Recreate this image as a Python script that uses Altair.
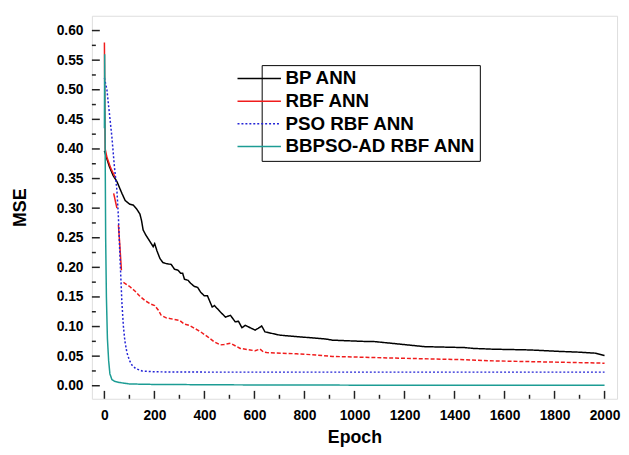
import altair as alt
import pandas as pd

# ---- data ----
series_names = ["BP ANN", "RBF ANN", "PSO RBF ANN", "BBPSO-AD RBF ANN"]
series_colors = ["#000000", "#f01c1c", "#2424d6", "#1c9c94"]

bp_epoch = [0, 5, 20, 35, 50, 60, 70, 83, 100, 116, 130, 142, 148, 155, 165, 180, 195, 201, 210,
            222, 234, 250, 267, 280, 295, 305, 313, 320, 335, 345, 359, 373, 385, 399, 412, 431,
            440, 464, 484, 504, 523, 536, 550, 563, 583, 603, 615, 629, 642, 701, 767, 807, 885,
            912, 1030, 1083, 1281, 1438, 1478, 1557, 1701, 1820, 1899, 1964, 2000]
bp_mse = [0.397, 0.39, 0.37, 0.355, 0.345, 0.335, 0.325, 0.313, 0.307, 0.305, 0.298, 0.29, 0.28,
          0.263, 0.255, 0.245, 0.235, 0.24, 0.228, 0.215, 0.208, 0.206, 0.205, 0.197, 0.195, 0.19,
          0.19, 0.18, 0.178, 0.173, 0.168, 0.166, 0.158, 0.152, 0.152, 0.133, 0.1355, 0.1245, 0.116,
          0.119, 0.108, 0.109, 0.098, 0.102, 0.098, 0.094, 0.097, 0.101, 0.091, 0.0855, 0.083,
          0.0817, 0.079, 0.077, 0.075, 0.0745, 0.066, 0.0645, 0.063, 0.0617, 0.0605, 0.058, 0.0567,
          0.055, 0.051]

# RBF ANN: solid pieces at the start, dashed afterwards
rbf_solid_part = ["a", "a", "a", "a", "a", "b", "b", "c", "c", "c"]
rbf_solid_epoch = [0, 3, 10, 25, 43, 37, 50, 56, 62, 68]
rbf_solid_mse = [0.58, 0.40, 0.386, 0.368, 0.352, 0.325, 0.30, 0.272, 0.235, 0.195]

rbf_dash_epoch = [76, 100, 122, 140, 162, 185, 201, 215, 227, 245, 267, 300, 320, 340, 373, 385,
                  412, 438, 464, 478, 504, 530, 543, 583, 603, 622, 636, 649, 767, 846, 912, 1162,
                  1438, 1557, 1984, 2000]
rbf_dash_mse = [0.1745, 0.168, 0.16, 0.152, 0.144, 0.138, 0.1355, 0.128, 0.119, 0.115, 0.113,
                0.1105, 0.104, 0.102, 0.094, 0.091, 0.083, 0.0745, 0.069, 0.0695, 0.0717, 0.066,
                0.063, 0.0605, 0.059, 0.062, 0.057, 0.056, 0.054, 0.052, 0.0495, 0.0467, 0.044,
                0.042, 0.0383, 0.038]

pso_epoch = [0, 10, 20, 30, 40, 50, 56, 62, 66, 70, 76, 82, 90, 100, 110, 125, 150, 200, 400,
             1000, 2000]
pso_mse = [0.52, 0.50, 0.46, 0.42, 0.37, 0.33, 0.285, 0.22, 0.18, 0.14, 0.10, 0.075, 0.056,
           0.043, 0.035, 0.029, 0.025, 0.0235, 0.023, 0.023, 0.023]

bb_epoch = [0, 1, 3, 5, 8, 12, 17, 22, 30, 40, 60, 100, 200, 500, 1000, 2000]
bb_mse = [0.435, 0.56, 0.40, 0.25, 0.15, 0.08, 0.042, 0.02, 0.0105, 0.0075, 0.0055, 0.003,
          0.0022, 0.0015, 0.001, 0.0008]

x_major = list(range(0, 2001, 200))
x_minor = list(range(100, 2000, 200))
y_major = [round(0.05 * i, 3) for i in range(13)]
y_minor = [round(0.025 + 0.05 * i, 3) for i in range(12)]

FONT = "Liberation Sans"
W, H = 532, 388
X_DOM = [-50, 2050]
Y_DOM = [-0.022, 0.625]
MAJOR_LEN, MINOR_LEN = 8, 4  # tick lengths in pixels (inward ticks)

# ---- tables ----
rows = []
for e, m in zip(bp_epoch, bp_mse):
    rows.append({"series": "BP ANN", "part": "bp", "epoch": e, "mse": m})
for p, e, m in zip(rbf_solid_part, rbf_solid_epoch, rbf_solid_mse):
    rows.append({"series": "RBF ANN", "part": "rbf" + p, "epoch": e, "mse": m})
for e, m in zip(pso_epoch, pso_mse):
    rows.append({"series": "PSO RBF ANN", "part": "pso", "epoch": e, "mse": m})
for e, m in zip(bb_epoch, bb_mse):
    rows.append({"series": "BBPSO-AD RBF ANN", "part": "bb", "epoch": e, "mse": m})
df = pd.DataFrame(rows)
df_dash = pd.DataFrame({"epoch": rbf_dash_epoch, "mse": rbf_dash_mse})

# tick tables: pixel lengths converted to data units through the scale ratio
y_per_px = (Y_DOM[1] - Y_DOM[0]) / H
x_per_px = (X_DOM[1] - X_DOM[0]) / W
xt_rows = [{"epoch": v, "mse": Y_DOM[0], "mse2": Y_DOM[0] + MAJOR_LEN * y_per_px} for v in x_major]
xt_rows += [{"epoch": v, "mse": Y_DOM[0], "mse2": Y_DOM[0] + MINOR_LEN * y_per_px} for v in x_minor]
yt_rows = [{"mse": v, "epoch": X_DOM[0], "epoch2": X_DOM[0] + MAJOR_LEN * x_per_px} for v in y_major]
yt_rows += [{"mse": v, "epoch": X_DOM[0], "epoch2": X_DOM[0] + MINOR_LEN * x_per_px} for v in y_minor]
df_xt = pd.DataFrame(xt_rows)
df_yt = pd.DataFrame(yt_rows)

xscale = alt.Scale(domain=X_DOM, nice=False, zero=False)
yscale = alt.Scale(domain=Y_DOM, nice=False, zero=False)

xaxis = alt.Axis(values=x_major, format="d", title="Epoch", ticks=False, domain=False, grid=False,
                 labelPadding=10, labelFont=FONT, labelFontSize=14, labelFontWeight="bold",
                 labelColor="black", titleFont=FONT, titleFontSize=18, titleFontWeight="bold",
                 titleColor="black", titlePadding=6, labelFlush=False, labelOverlap=False)
yaxis = alt.Axis(values=y_major, format=".2f", title="MSE", ticks=False, domain=False, grid=False,
                 labelPadding=9, labelFont=FONT, labelFontSize=14, labelFontWeight="bold",
                 labelColor="black", titleFont=FONT, titleFontSize=18, titleFontWeight="bold",
                 titleColor="black", titlePadding=27, labelFlush=False, labelOverlap=False)

X = alt.X("epoch:Q", scale=xscale, axis=xaxis)
Y = alt.Y("mse:Q", scale=yscale, axis=yaxis)

# legend symbol: a 44px horizontal stroke drawn mostly to the left of a 12px symbol slot
legend = alt.Legend(title=None, orient="none", legendX=172, legendY=50,
                    symbolType="M-6.333,0H1", symbolSize=144, symbolStrokeWidth=1.5,
                    labelFont=FONT, labelFontSize=19, labelFontWeight="bold",
                    labelColor="black", labelOffset=1, labelLimit=400, rowPadding=3,
                    padding=4, strokeColor="black", fillColor="white")

main = alt.Chart(df).mark_line(strokeWidth=1.5, clip=True).encode(
    x=X, y=Y,
    color=alt.Color("series:N", scale=alt.Scale(domain=series_names, range=series_colors),
                    sort=series_names, legend=legend),
    strokeDash=alt.StrokeDash("series:N", sort=series_names,
                              scale=alt.Scale(domain=series_names,
                                              range=[[1, 0], [1, 0], [2, 2], [1, 0]]),
                              legend=legend),
    detail="part:N",
)

dash = alt.Chart(df_dash).mark_line(strokeWidth=1.5, color="#f01c1c", strokeDash=[4, 2],
                                    clip=True).encode(x=X, y=Y)

xt = alt.Chart(df_xt).mark_rule(color="#222", strokeWidth=1.5).encode(
    x=X, y=Y, y2="mse2:Q")
yt = alt.Chart(df_yt).mark_rule(color="#222", strokeWidth=1.5).encode(
    x=X, x2="epoch2:Q", y=Y)

chart = alt.layer(main, dash, xt, yt).properties(
    width=W, height=H,
    autosize=alt.AutoSizeParams(type="none"),
    padding={"left": 85, "top": 5, "right": 4, "bottom": 46},
).configure_view(
    stroke="#222", strokeWidth=2
).configure(background="white")

chart.save("out.html", embed_options={"renderer": "svg", "actions": False})
